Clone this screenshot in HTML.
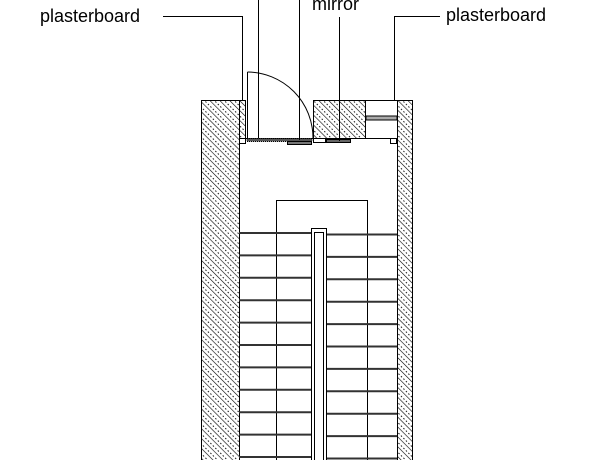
<!DOCTYPE html>
<html><head><meta charset="utf-8"><style>
html,body{margin:0;padding:0;background:#fff;width:600px;height:460px;overflow:hidden}
text{font-family:"Liberation Sans",Arial,sans-serif;font-size:18px;fill:#000}
</style></head><body>
<svg width="600" height="460" viewBox="0 0 600 460" xmlns="http://www.w3.org/2000/svg">
<defs>
<pattern id="h" patternUnits="userSpaceOnUse" width="7" height="7" patternTransform="rotate(-45)">
<line x1="0" y1="0" x2="0" y2="7" stroke="#000" stroke-width="1.2"/>
<line x1="3.5" y1="0" x2="3.5" y2="7" stroke="#000" stroke-width="0.9" stroke-dasharray="1.5 2"/>
</pattern>
</defs>
<g stroke="#000" stroke-width="1" fill="none">
<rect x="201.5" y="100.5" width="38" height="360" fill="url(#h)"/>
<rect x="239.5" y="100.5" width="6" height="38" fill="url(#h)" stroke="none"/>
<line x1="201" y1="100.5" x2="246" y2="100.5"/>
<line x1="245.5" y1="100" x2="245.5" y2="138"/>
<rect x="397.5" y="100.5" width="15" height="360" fill="url(#h)"/>
<rect x="313.5" y="100.5" width="52" height="38" fill="url(#h)"/>
<rect x="365.5" y="100.5" width="32" height="38"/>
<rect x="366" y="116" width="31" height="4" fill="#aaa"/>
<line x1="239" y1="138.5" x2="397" y2="138.5"/>
<rect x="239.5" y="138.5" width="6" height="5" fill="#fff"/>
<rect x="390.5" y="138.5" width="6" height="5" fill="#fff"/>
<rect x="247" y="138.5" width="65" height="3" fill="#555" stroke-dasharray="1 1"/>
<rect x="287.5" y="141.5" width="24" height="3" fill="#777"/>
<rect x="313.5" y="138.5" width="12" height="4" fill="#fff"/>
<rect x="326.5" y="139.5" width="24" height="3" fill="#666"/>
<line x1="247.5" y1="72" x2="247.5" y2="138"/>
<path d="M247.5 72 A66 66 0 0 1 313 138"/>
<polyline points="163,16.5 242.5,16.5 242.5,100"/>
<line x1="258.5" y1="0" x2="258.5" y2="138"/>
<line x1="299.5" y1="0" x2="299.5" y2="140"/>
<line x1="339.5" y1="17" x2="339.5" y2="141"/>
<polyline points="440,16.5 394.5,16.5 394.5,100"/>
<polyline points="276.5,460 276.5,200.5 367.5,200.5 367.5,460"/>
<rect x="311.5" y="228.5" width="15" height="240"/>
<rect x="314.5" y="232.5" width="9" height="240"/>
</g>
<g stroke="#333" stroke-width="2">
<line x1="239" y1="233" x2="311" y2="233"/><line x1="239" y1="255.4" x2="311" y2="255.4"/>
<line x1="239" y1="277.8" x2="311" y2="277.8"/><line x1="239" y1="300.2" x2="311" y2="300.2"/>
<line x1="239" y1="322.6" x2="311" y2="322.6"/><line x1="239" y1="345" x2="311" y2="345"/>
<line x1="239" y1="367.4" x2="311" y2="367.4"/><line x1="239" y1="389.8" x2="311" y2="389.8"/>
<line x1="239" y1="412.2" x2="311" y2="412.2"/><line x1="239" y1="434.6" x2="311" y2="434.6"/>
<line x1="239" y1="457" x2="311" y2="457"/>
<line x1="327" y1="234.5" x2="397" y2="234.5"/><line x1="327" y1="256.9" x2="397" y2="256.9"/>
<line x1="327" y1="279.3" x2="397" y2="279.3"/><line x1="327" y1="301.7" x2="397" y2="301.7"/>
<line x1="327" y1="324.1" x2="397" y2="324.1"/><line x1="327" y1="346.5" x2="397" y2="346.5"/>
<line x1="327" y1="368.9" x2="397" y2="368.9"/><line x1="327" y1="391.3" x2="397" y2="391.3"/>
<line x1="327" y1="413.7" x2="397" y2="413.7"/><line x1="327" y1="436.1" x2="397" y2="436.1"/>
<line x1="327" y1="458.5" x2="397" y2="458.5"/>
</g>
<text x="40" y="22">plasterboard</text>
<text x="312" y="10">mirror</text>
<text x="446" y="21">plasterboard</text>
</svg>
</body></html>
